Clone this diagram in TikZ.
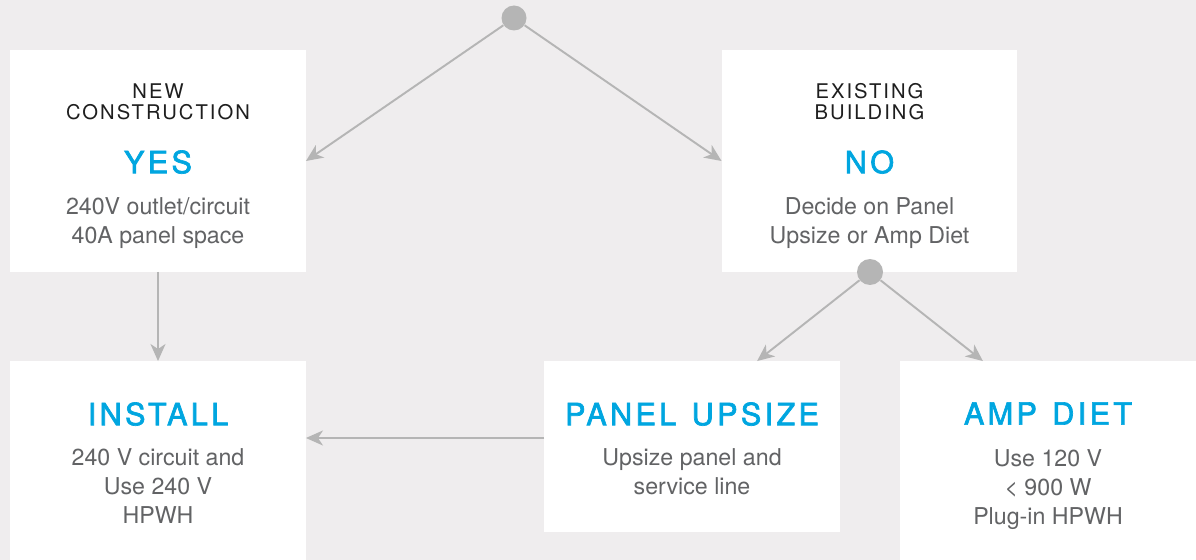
\documentclass[tikz,border=0pt]{standalone}
\usepackage{fontspec}
\setmainfont{TeX Gyre Heros}
\newfontfamily\capsfont[LetterSpace=10]{TeX Gyre Heros}
\newfontfamily\titlefont[LetterSpace=11,FakeBold=2.2,WordSpace=1.3]{TeX Gyre Heros}
\usetikzlibrary{positioning,calc,arrows.meta}
\definecolor{PageGray}{RGB}{239,237,238}
\definecolor{LineGray}{RGB}{181,181,181}
\definecolor{TitleBlue}{RGB}{0,166,224}
\definecolor{BodyGray}{RGB}{98,99,101}
\definecolor{HeadBlack}{RGB}{30,30,30}

\begin{document}
\begin{tikzpicture}[x=0.02cm,y=-0.02cm,
    % Style cho hop trang
    box/.style={
        fill=white, draw=none,
        minimum width=5.92cm, inner sep=0pt, outer sep=0pt
    },
    % Style cho dong tieu de nho phia tren
    headtext/.style={
        font=\capsfont\fontsize{11.5}{12}\selectfont, text=HeadBlack,
        align=center, inner sep=0pt, anchor=north
    },
    % Style cho chu xanh
    titletext/.style={
        font=\titlefont\fontsize{17.4}{20}\selectfont, text=TitleBlue,
        inner sep=0pt, anchor=north
    },
    % Style cho noi dung
    bodytext/.style={
        font=\fontsize{13.2}{16.5}\selectfont, text=BodyGray,
        align=center, inner sep=0pt, anchor=north
    },
    % Style cho cham tron
    dot/.style={
        circle, fill=LineGray, inner sep=0pt, minimum size=0.5cm
    },
    % Style cho mui ten
    flow/.style={
        draw=LineGray, line width=1.1pt,
        -{Stealth[length=0.34cm,width=0.3cm,inset=0.1cm]}
    }
]
    % --- 1. Nen ---
    \fill[PageGray] (0,0) rectangle (1196,560);
    \useasboundingbox (0,0) rectangle (1196,560);

    % --- 2. Cac hop ---
    \node[box, minimum height=4.44cm] (newc) at (158,161) {};
    \node[box, minimum height=4.44cm] (exist) at (869.5,161) {};
    \node[box, minimum height=3.98cm] (install) at (158,460.5) {};
    \node[box, minimum height=3.42cm] (panel) at (692,446.5) {};
    \node[box, minimum height=3.98cm] (amp) at (1048,460.5) {};

    % --- 3. Cham re nhanh ---
    \node[dot] (split) at (514,18) {};
    \node[dot, minimum size=0.52cm] (choice) at (870,272) {};

    % --- 4. Chu ---
    \node[headtext] (newchead) at (158,83) {NEW\\CONSTRUCTION};
    \node[titletext] (newctitle) at (158,150) {YES};
    \node[bodytext] (newcbody) at (158,197) {240V outlet/circuit\\40A panel space};

    \node[headtext] (existhead) at (869.5,83) {EXISTING\\BUILDING};
    \node[titletext] (existtitle) at (869.5,150) {NO};
    \node[bodytext] (existbody) at (869.5,197) {Decide on Panel\\Upsize or Amp Diet};

    \node[titletext] (installtitle) at (158,402) {INSTALL};
    \node[bodytext] (installbody) at (158,448) {240 V circuit and\\Use 240 V\\HPWH};

    \node[titletext] (paneltitle) at (692,402) {PANEL UPSIZE};
    \node[bodytext] (panelbody) at (692,448) {Upsize panel and\\service line};

    \node[titletext] (amptitle) at (1048,402) {AMP DIET};
    \node[bodytext] (ampbody) at (1048,449) {Use 120 V\\< 900 W\\Plug-in HPWH};

    % --- 5. Mui ten ---
    \draw[flow] (split) -- (newc.east);
    \draw[flow] (split) -- (exist.west);
    \draw[flow] (newc) -- (install);
    \draw[flow] (choice) -- ($(panel.north west)!0.72!(panel.north east)$);
    \draw[flow] (choice) -- ($(amp.north west)!0.28!(amp.north east)$);
    \coordinate (feed) at ([yshift=0.17cm]panel.west);
    \draw[flow] (feed) -- (feed -| install.east);
\end{tikzpicture}
\end{document}
